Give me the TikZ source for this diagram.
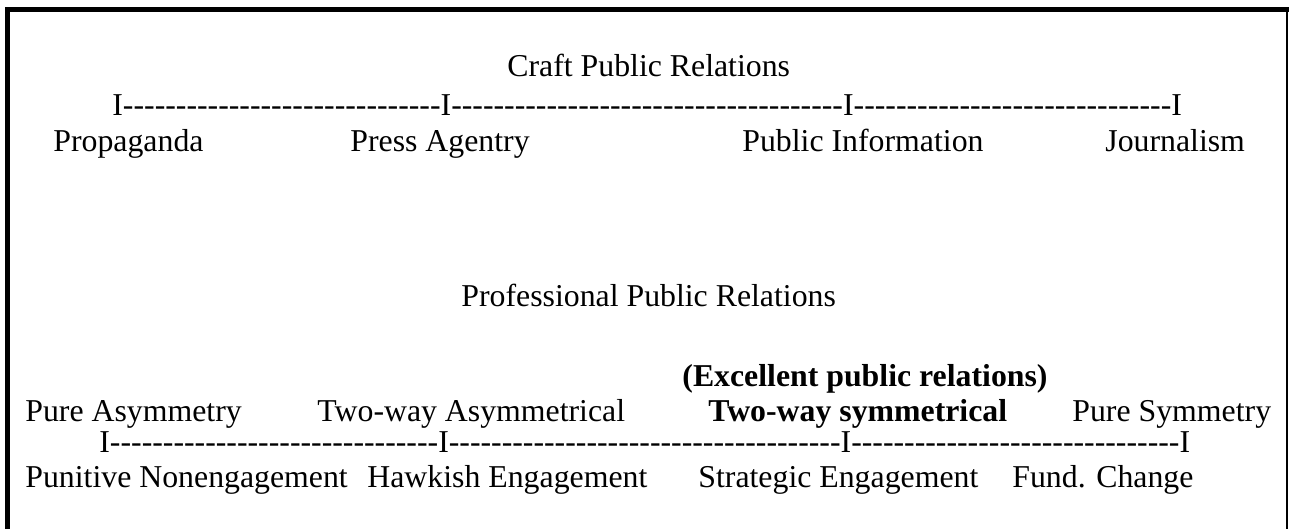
\documentclass[tikz,border=0pt]{standalone}
\usepackage{fontspec}
\newfontfamily\prfont{Liberation Serif}
\newcommand\dashrun[1]{\foreach \k in {1,...,#1}{-}}

\begin{document}
\begin{tikzpicture}[x=0.5pt, y=-0.5pt, font=\prfont\fontsize{15.9}{19}\selectfont, line cap=butt]
\tikzset{lbl/.style={anchor=base west, inner sep=0pt}}
\useasboundingbox (0,0) rectangle (1289,529);
% frame: heavy top and left, thin right, open at the bottom
\draw[line width=2.5pt] (7.5,529) -- (7.5,9.5) -- (1289,9.5);
\draw[line width=1pt] (1287,12) -- (1287,529);
% craft scale
\node[lbl] (craft) at (507,77) {Craft Public Relations};
\node[lbl] (craftline) at (112,116) {I\dashrun{30}I\dashrun{37}I\dashrun{30}I};
\node[lbl] (propa) at (53,152) {Propaganda};
\node[lbl] (press) at (350,152) {Press Agentry};
\node[lbl] (pubinfo) at (742,152) {Public Information};
\node[lbl] (journ) at (1105,152) {Journalism};
% professional scale
\node[lbl] (prof) at (461,306) {Professional Public Relations};
\node[lbl] (excel) at (682,386) {\bfseries (Excellent public relations)};
\node[lbl] (pasym) at (25,421) {Pure Asymmetry};
\node[lbl] (twoasym) at (317,421) {Two-way Asymmetrical};
\node[lbl] (twosym) at (708,421) {\bfseries Two-way symmetrical};
\node[lbl] (psym) at (1072,421) {Pure Symmetry};
\node[lbl] (profline) at (99,452) {I\dashrun{31}I\dashrun{37}I\dashrun{31}I};
\node[lbl] (punit) at (25,487) {Punitive Nonengagement};
\node[lbl] (hawk) at (367,487) {Hawkish Engagement};
\node[lbl] (strat) at (698,487) {Strategic Engagement};
\node[lbl] (fund) at (1012,487) {Fund. Change};
\end{tikzpicture}
\end{document}
